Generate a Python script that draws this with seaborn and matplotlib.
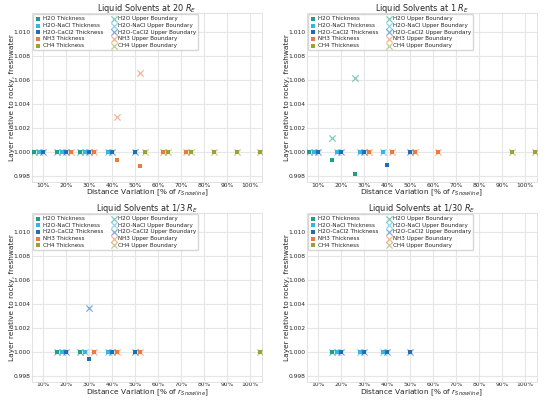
import matplotlib
matplotlib.use("Agg")
import matplotlib.pyplot as plt
import seaborn as sns
import numpy as np
import pandas as pd

# Data
solvents = ["H2O", "H2O-NaCl", "H2O-CaCl2", "NH3", "CH4"]
colors = ["#1f9e89", "#35b5e0", "#1f6db3", "#ec7a3c", "#9aa332"]
offsets = [-4, -2, 0, 2, 4]
titles = ["Liquid Solvents at 20 $R_E$", "Liquid Solvents at 1 $R_E$",
          "Liquid Solvents at 1/3 $R_E$", "Liquid Solvents at 1/30 $R_E$"]

# distance [% of snowline] per solvent, per panel
dist_20 = [[10, 20, 30], [10, 20, 30, 40], [10, 20, 30, 40, 50],
           [20, 30, 40, 50, 60, 70], [50, 60, 70, 80, 90, 100]]
thick_20 = [[1, 1, 1], [1, 1, 1, 1], [1, 1, 1, 1, 1],
            [1, 1, 0.9993, 0.9988, 1, 1], [1, 1, 1, 1, 1, 1]]
upper_20 = [[1, 1, 1], [1, 1, 1, 1], [1, 1, 1, 1, 1],
            [1, 1, 1.0029, 1.0066, 1, 1], [1, 1, 1, 1, 1, 1]]

dist_1 = [[10, 20, 30], [10, 20, 30, 40], [10, 20, 30, 40, 50],
          [30, 40, 50, 60], [90, 100]]
thick_1 = [[1, 0.9993, 0.9982], [1, 1, 1, 1], [1, 1, 1, 0.9989, 1],
           [1, 1, 1, 1], [1, 1]]
upper_1 = [[1, 1.0012, 1.0062], [1, 1, 1, 1], [1, 1, 1, np.nan, 1],
           [1, 1, 1, 1], [1, 1]]

dist_3 = [[20, 30], [20, 30, 40], [20, 30, 40, 50], [30, 40, 50], [100]]
thick_3 = [[1, 1], [1, 1, 1], [1, 0.9994, 1, 1], [1, 1, 1], [1]]
upper_3 = [[1, 1], [1, 1, 1], [1, 1.0037, 1, 1], [1, 1, 1], [1]]

dist_30 = [[20], [20, 30, 40], [20, 30, 40, 50], [], []]
thick_30 = [[1], [1, 1, 1], [1, 1, 1, 1], [], []]
upper_30 = [[1], [1, 1, 1], [1, 1, 1, 1], [], []]

panels = [(dist_20, thick_20, upper_20), (dist_1, thick_1, upper_1),
          (dist_3, thick_3, upper_3), (dist_30, thick_30, upper_30)]

sns.set_style("whitegrid", {"grid.color": "#e6e6e6", "axes.edgecolor": "#dddddd"})
plt.rcParams["font.family"] = ["DejaVu Sans"]


def draw(ax, x, y, label, **kw):
    if len(x) == 0:
        # keep the legend entry even when a solvent has no points
        ax.scatter([], [], label=label, **kw)
    else:
        sns.scatterplot(x=x, y=y, ax=ax, label=label, **kw)


fig, axes = plt.subplots(2, 2, figsize=(5.5, 4.01), dpi=100)
for ax, title, (dist, thick, upper) in zip(axes.flat, titles, panels):
    for i, name in enumerate(solvents):
        x = np.array(dist[i], dtype=float) + offsets[i]
        draw(ax, x, np.array(thick[i], dtype=float), name + " Thickness",
             marker="s", s=8, color=colors[i], linewidth=0, zorder=3)
    for i, name in enumerate(solvents):
        x = np.array(dist[i], dtype=float) + offsets[i]
        draw(ax, x, np.array(upper[i], dtype=float), name + " Upper Boundary",
             marker="x", s=20, color=colors[i], alpha=0.55, linewidth=0.9, zorder=4)
    ax.set_xlim(5, 105)
    ax.set_ylim(0.9975, 1.0116)
    ax.set_xticks(np.arange(10, 101, 10))
    ax.set_xticklabels([f"{v}%" for v in range(10, 101, 10)])
    ax.set_yticks(np.arange(0.998, 1.0101, 0.002))
    ax.set_yticklabels([f"{v:.3f}" for v in np.arange(0.998, 1.0101, 0.002)])
    ax.tick_params(axis="x", labelsize=4.3, pad=0.5, length=0)
    ax.tick_params(axis="y", labelsize=4.3, pad=1, length=0)
    ax.set_title(title, fontsize=5.9, pad=1.5)
    ax.set_xlabel("Distance Variation [% of $r_{Snowline}$]", fontsize=5.3)
    ax.set_ylabel("Layer relative to rocky, freshwater", fontsize=5.3)
    ax.xaxis.set_label_coords(0.5, -0.035)
    ax.yaxis.set_label_coords(-0.075, 0.5)
    ax.legend(ncol=2, loc="upper left", fontsize=4.1, frameon=True,
              handletextpad=0.2, columnspacing=1.2, handlelength=1.2,
              labelspacing=0.3, borderpad=0.35, borderaxespad=0.2)
    for sp in ax.spines.values():
        sp.set_color("#dddddd")
        sp.set_linewidth(0.6)

plt.subplots_adjust(left=0.058, right=0.976, top=0.967, bottom=0.048,
                    wspace=0.196, hspace=0.183)
fig.savefig("out.png", dpi=100)
